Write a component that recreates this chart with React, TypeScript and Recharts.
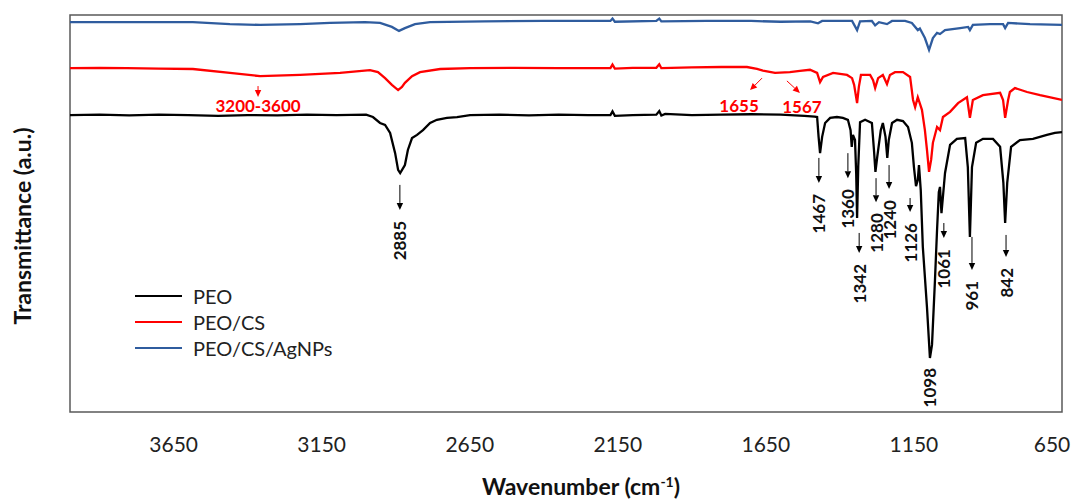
import { LineChart, Line, XAxis, YAxis, ReferenceArea, ReferenceDot, Legend } from "recharts";

// wavenumber (cm-1), transmittance (a.u.)
const PEO = [
  [4000, 74.8], [3900, 74.9], [3800, 74.7], [3700, 74.9], [3600, 74.8], [3500, 74.6],
  [3400, 74.8], [3300, 74.7], [3200, 74.9], [3100, 74.8], [3000, 74.9], [2977, 74.3],
  [2953, 72.8], [2936, 72.3], [2919, 70.3], [2902, 65.2], [2892, 61.0], [2885, 60.2],
  [2869, 62.2], [2859, 66.0], [2845, 69.0], [2828, 69.8], [2808, 71.0], [2784, 72.8],
  [2761, 73.6], [2727, 74.1], [2693, 74.3], [2649, 74.8], [2550, 74.9], [2450, 74.7],
  [2350, 74.9], [2250, 74.8], [2175, 74.8], [2168, 75.7], [2160, 74.6], [2100, 74.8],
  [2020, 74.9], [2010, 75.8], [2003, 74.7], [1990, 75.1], [1900, 74.8], [1800, 74.9],
  [1700, 75.0], [1600, 74.9], [1520, 74.6], [1485, 74.4], [1477, 74.3], [1472, 69.3],
  [1467, 65.2], [1460, 69.3], [1450, 72.8], [1433, 74.1], [1410, 74.3], [1390, 74.1],
  [1373, 73.6], [1364, 71.0], [1360, 66.8], [1356, 69.8], [1349, 68.5], [1345, 60.0],
  [1342, 48.9], [1338, 62.0], [1332, 73.0], [1315, 73.6], [1292, 72.8], [1285, 66.0],
  [1280, 60.5], [1274, 64.2], [1262, 71.0], [1255, 72.8], [1246, 69.3], [1240, 64.0],
  [1235, 68.5], [1224, 72.8], [1207, 73.6], [1187, 73.3], [1170, 71.8], [1157, 67.8],
  [1150, 61.7], [1143, 56.9], [1137, 58.4], [1133, 62.2], [1127, 55.9], [1120, 41.6],
  [1106, 26.4], [1096, 13.6], [1089, 16.9], [1079, 33.2], [1072, 45.8], [1066, 55.4],
  [1062, 56.7], [1057, 50.1], [1045, 60.2], [1028, 67.3], [1005, 68.8], [977, 69.0],
  [968, 61.7], [961, 44.1], [954, 61.7], [940, 67.8], [917, 68.8], [883, 68.8],
  [859, 66.8], [848, 57.7], [842, 47.6], [835, 57.7], [822, 66.8], [792, 68.5],
  [748, 68.8], [701, 69.8], [674, 70.3], [650, 70.5],
];

const PEO_CS = [
  [4000, 86.6], [3900, 86.7], [3808, 86.6], [3700, 86.5], [3585, 86.4], [3460, 85.4],
  [3358, 84.6], [3223, 84.9], [3088, 85.4], [2987, 86.1], [2960, 85.6], [2936, 84.1],
  [2913, 82.4], [2892, 81.1], [2879, 81.9], [2869, 82.9], [2845, 84.6], [2818, 85.6],
  [2750, 86.4], [2649, 86.6], [2500, 86.7], [2350, 86.6], [2175, 86.6], [2168, 87.5],
  [2160, 86.5], [2100, 86.7], [2020, 86.7], [2010, 87.6], [2003, 86.6], [1900, 86.8],
  [1800, 86.9], [1714, 86.9], [1680, 86.4], [1660, 86.0], [1619, 85.4], [1569, 85.6],
  [1535, 85.9], [1501, 86.2], [1477, 85.4], [1467, 83.1], [1457, 84.4], [1423, 85.4],
  [1376, 84.9], [1359, 84.1], [1352, 82.4], [1342, 77.8], [1336, 81.9], [1329, 84.9],
  [1298, 84.9], [1288, 83.6], [1281, 81.6], [1271, 84.1], [1255, 84.9], [1241, 82.6],
  [1231, 84.9], [1214, 85.6], [1187, 85.6], [1163, 84.4], [1153, 78.6], [1146, 76.8],
  [1137, 79.3], [1123, 76.1], [1113, 71.0], [1106, 66.0], [1099, 60.5], [1092, 63.5],
  [1086, 67.8], [1072, 71.8], [1062, 71.0], [1052, 74.3], [1028, 75.6], [1001, 77.8],
  [971, 79.3], [961, 74.1], [951, 78.6], [917, 79.8], [859, 80.4], [849, 78.6],
  [842, 74.1], [832, 78.6], [826, 80.6], [809, 81.6], [768, 80.6], [724, 79.8],
  [650, 78.6],
];

const PEO_CS_AG = [
  [4000, 98.2], [3808, 98.2], [3585, 98.2], [3460, 97.7], [3358, 97.5], [3223, 97.7],
  [3122, 98.0], [3004, 98.2], [2953, 98.0], [2913, 97.0], [2889, 96.0], [2869, 96.7],
  [2835, 97.7], [2784, 98.2], [2600, 98.4], [2400, 98.5], [2175, 98.5], [2168, 99.1],
  [2160, 98.3], [2020, 98.5], [2010, 99.1], [2003, 98.4], [1850, 98.5], [1700, 98.5],
  [1600, 98.3], [1500, 98.4], [1474, 97.9], [1460, 98.5], [1359, 98.5], [1342, 96.2],
  [1332, 98.4], [1292, 98.5], [1281, 97.4], [1268, 98.2], [1241, 97.7], [1224, 98.5],
  [1180, 98.5], [1157, 98.0], [1137, 96.2], [1130, 96.6], [1113, 94.2], [1099, 91.2],
  [1086, 94.2], [1072, 95.5], [1062, 95.2], [1045, 96.2], [994, 96.7], [967, 97.0],
  [961, 96.2], [951, 97.5], [893, 97.7], [849, 97.7], [842, 96.7], [832, 98.0],
  [758, 97.7], [650, 97.5],
];

const SERIES_NAMES = ["PEO", "PEO/CS", "PEO/CS/AgNPs"];
const COLORS = ["#000000", "#FF0000", "#2F5C9E"];
const X_TICKS = [3650, 3150, 2650, 2150, 1650, 1150, 650];

// black peak labels
const PEAK_LABELS = ["2885", "1467", "1360", "1342", "1280", "1240", "1126", "1098", "1061", "961", "842"];
const PEAK_WN = [2886, 1471, 1373, 1335, 1278, 1234, 1163, 1096, 1049, 954, 839];
const PEAK_T = [57.2, 64.0, 65.2, 45.1, 58.9, 62.2, 53.9, 11.1, 47.6, 44.1, 44.6];
const PEAK_ARROW = [25, 25, 25, 20, 24, 24, 14, 0, 15, 33, 22];

// red labels
const RED_LABELS = ["3200-3600", "1655", "1567"];
const RED_WN = [3365, 1663, 1579];
const RED_T = [82.1, 84.1, 83.4];
const RED_ARROW = [[0, 11], [-12, 12], [13, 12]];
const RED_TEXT = [[0, 26], [-23, 34], [15, 32]];

const FONT = "Lato, 'Open Sans', sans-serif";

const toPoints = (arr: number[][]) => arr.map(([wn, t]) => ({ wn, t }));
const seriesData = [toPoints(PEO), toPoints(PEO_CS), toPoints(PEO_CS_AG)];

function Arrow({ x1, y1, x2, y2, color }: any) {
  const dx = x2 - x1;
  const dy = y2 - y1;
  const len = Math.sqrt(dx * dx + dy * dy) || 1;
  const ux = dx / len;
  const uy = dy / len;
  const hl = 7;
  const hw = 3.2;
  const bx = x2 - ux * hl;
  const by = y2 - uy * hl;
  return (
    <g>
      <line x1={x1} y1={y1} x2={bx} y2={by} stroke={color} strokeWidth={1} />
      <polygon
        points={`${x2},${y2} ${bx - uy * hw},${by + ux * hw} ${bx + uy * hw},${by - ux * hw}`}
        fill={color}
      />
    </g>
  );
}

function peakShape(i: number) {
  return (props: any) => {
    const { cx, cy } = props;
    const len = PEAK_ARROW[i];
    const top = len > 0 ? cy + len + 11 : cy;
    return (
      <g>
        {len > 0 && <Arrow x1={cx} y1={cy} x2={cx} y2={cy + len} color="#000" />}
        <text
          x={cx}
          y={top}
          transform={`rotate(-90, ${cx}, ${top})`}
          textAnchor="end"
          dominantBaseline="central"
          fontSize={17}
          fontWeight="bold"
          fontFamily={FONT}
          fill="#111"
        >
          {PEAK_LABELS[i]}
        </text>
      </g>
    );
  };
}

function redShape(i: number) {
  return (props: any) => {
    const { cx, cy } = props;
    const [ax, ay] = RED_ARROW[i];
    const [tx, ty] = RED_TEXT[i];
    return (
      <g>
        <Arrow x1={cx} y1={cy} x2={cx + ax} y2={cy + ay} color="#FF0000" />
        <text
          x={cx + tx}
          y={cy + ty}
          textAnchor="middle"
          fontSize={17}
          fontWeight="bold"
          fontFamily={FONT}
          fill="#FF0000"
        >
          {RED_LABELS[i]}
        </text>
      </g>
    );
  };
}

function XTick(props: any) {
  const { x, y, payload } = props;
  return (
    <text
      x={payload.value === 650 ? x - 10 : x}
      y={y + 32}
      textAnchor="middle"
      fontSize={21}
      fontFamily={FONT}
      fill="#222"
    >
      {payload.value}
    </text>
  );
}

function XTitle(props: any) {
  const { viewBox } = props;
  const cx = viewBox.x + viewBox.width / 2 + 15;
  return (
    <text x={cx} y={495} textAnchor="middle" fontSize={23} fontWeight="bold" fontFamily={FONT} fill="#111">
      Wavenumber (cm
      <tspan dy={-8} fontSize={14}>-1</tspan>
      <tspan dy={8}>)</tspan>
    </text>
  );
}

function LegendBox() {
  return (
    <div style={{ fontFamily: FONT, fontSize: 20, color: "#222" }}>
      {SERIES_NAMES.map((name, i) => (
        <div key={name} style={{ display: "flex", alignItems: "center", height: 26 }}>
          <div style={{ width: 47, height: 2.5, background: COLORS[i], marginRight: 11 }} />
          <span>{name}</span>
        </div>
      ))}
    </div>
  );
}

export default function App() {
  return (
    <div style={{ position: "absolute", left: 0, top: 0, width: 1081, height: 502, background: "#fff" }}>
      <LineChart width={1081} height={502} margin={{ top: 15, right: 19, bottom: 60, left: 70 }}>
        <XAxis
          dataKey="wn"
          type="number"
          domain={[650, 4000]}
          reversed
          allowDataOverflow
          ticks={X_TICKS}
          tickLine={false}
          axisLine={false}
          height={30}
          tick={<XTick />}
          label={{ content: <XTitle /> }}
        />
        <YAxis hide type="number" domain={[0, 100]} allowDataOverflow />
        <ReferenceArea
          x1={650}
          x2={4000}
          y1={0}
          y2={100}
          fill="none"
          fillOpacity={0}
          stroke="#595959"
          strokeWidth={1.5}
        />
        {seriesData.map((d, i) => (
          <Line
            key={SERIES_NAMES[i]}
            data={d}
            dataKey="t"
            name={SERIES_NAMES[i]}
            type="linear"
            stroke={COLORS[i]}
            strokeWidth={2.3}
            dot={false}
            isAnimationActive={false}
          />
        ))}
        {PEAK_LABELS.map((l, i) => (
          <ReferenceDot key={"p" + l} x={PEAK_WN[i]} y={PEAK_T[i]} r={0} shape={peakShape(i)} />
        ))}
        {RED_LABELS.map((l, i) => (
          <ReferenceDot key={"r" + l} x={RED_WN[i]} y={RED_T[i]} r={0} shape={redShape(i)} />
        ))}
        <Legend
          layout="vertical"
          align="center"
          verticalAlign="middle"
          wrapperStyle={{ left: 135, top: 283, width: 220 }}
          content={<LegendBox />}
        />
      </LineChart>
      <svg
        width={1081}
        height={502}
        style={{ position: "absolute", left: 0, top: 0, pointerEvents: "none" }}
      >
        <text
          x={22}
          y={226}
          transform="rotate(-90, 22, 226)"
          textAnchor="middle"
          dominantBaseline="central"
          fontSize={23}
          fontWeight="bold"
          fontFamily={FONT}
          fill="#111"
        >
          Transmittance (a.u.)
        </text>
      </svg>
    </div>
  );
}
